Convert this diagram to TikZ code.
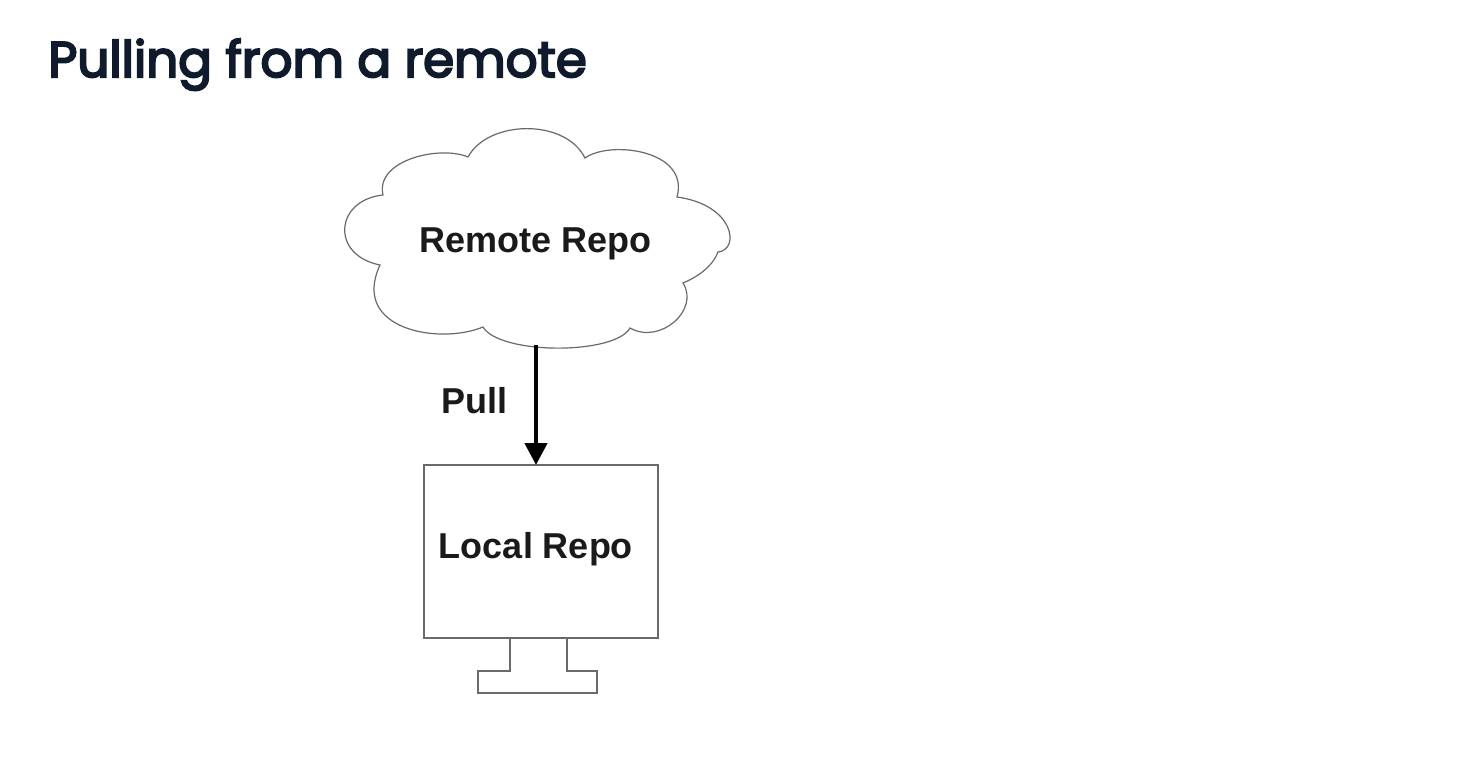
\documentclass[tikz,border=0pt]{standalone}
\usepackage{fontspec}
\setmainfont{Liberation Sans}
\newfontfamily\titlefont[FakeBold=4]{Poppins}
\usetikzlibrary{arrows.meta}
\definecolor{titlecol}{HTML}{0F1B2D}
\definecolor{linecol}{HTML}{6A6A6A}
\definecolor{txtcol}{HTML}{1A1A1A}
\begin{document}
\begin{tikzpicture}[x=0.5pt,y=-0.5pt,
  lbl/.style={font=\fontsize{18pt}{20pt}\selectfont\bfseries, text=txtcol, inner sep=0pt},
  outline/.style={draw=linecol, line width=0.6pt},
  pullarrow/.style={draw=black, line width=2.2pt, -{Triangle[length=11pt,width=11pt]}}]
\useasboundingbox[fill=white] (0,0) rectangle (1480,760);
% title
\node[anchor=base west, inner sep=0pt, text=titlecol, font=\titlefont\fontsize{25pt}{29pt}\selectfont] (title) at (48,77) {Pulling from a remote};
% cloud
\draw[outline, fill=white]
  (468,157) .. controls (488,120) and (565,118) .. (585,158)
  .. controls (610,140) and (690,150) .. (677,197)
  .. controls (735,205) and (740,250) .. (718,252)
  .. controls (712,268) and (695,278) .. (683,283)
  .. controls (700,310) and (660,345) .. (630,328)
  .. controls (615,355) and (500,355) .. (483,327)
  .. controls (440,345) and (350,330) .. (380,265)
  .. controls (330,255) and (335,200) .. (383,195)
  .. controls (375,160) and (440,145) .. (468,157) -- cycle;
\node[lbl, anchor=base] (remote) at (536,252) {Remote Repo};
\coordinate (cloudbottom) at (536,345);
% local repo monitor
\node[outline, minimum width=117pt, minimum height=86.5pt, inner sep=0pt] (local) at (541,551.5) {};
\node[lbl, anchor=base] (localtxt) at (536,558) {Local Repo};
\draw[outline] (510,638) -- (510,671) -- (478,671) -- (478,693) -- (597,693) -- (597,671) -- (567,671) -- (567,638);
% arrow
\draw[pullarrow] (cloudbottom) -- (536,465);
\node[lbl, anchor=base] (pull) at (474,413) {Pull};
\end{tikzpicture}
\end{document}
